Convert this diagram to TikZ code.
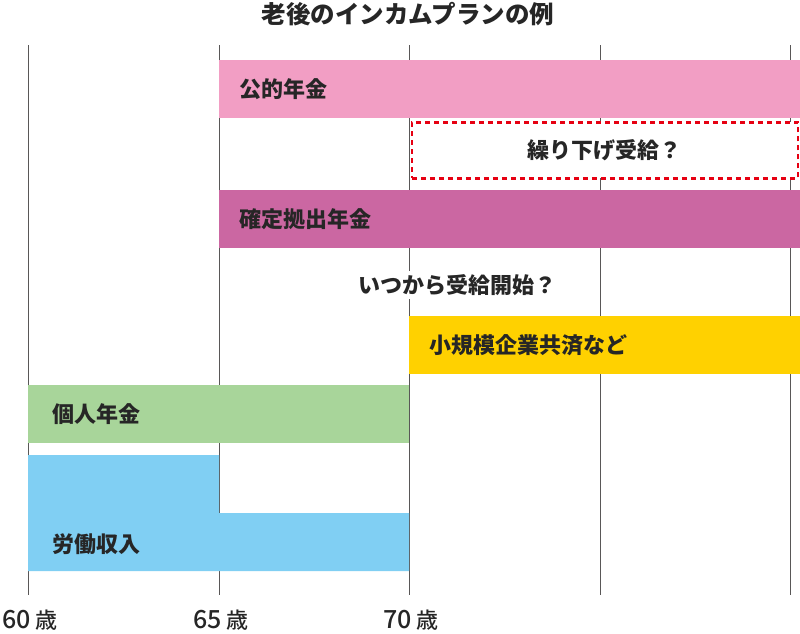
\documentclass[tikz,border=0pt]{standalone}
\usepackage{fontspec}
\setmainfont{Noto Sans CJK JP}
\newfontfamily\agefont{Noto Sans CJK JP Medium}
\usetikzlibrary{positioning}

\definecolor{kouteki}{HTML}{F29EC4}
\definecolor{kakutei}{HTML}{CB67A2}
\definecolor{shokibo}{HTML}{FFD100}
\definecolor{kojin}{HTML}{A8D59A}
\definecolor{roudou}{HTML}{80CFF3}
\definecolor{kuriage}{HTML}{E60012}
\definecolor{rule}{HTML}{595757}

\tikzset{
  bar/.style={anchor=north west, inner sep=0pt, minimum height=58pt},
  barlabel/.style={font=\fontsize{22}{22}\selectfont\bfseries, text=black!85, inner sep=0pt},
  agelabel/.style={font=\agefont, text=black!85, inner sep=0pt},
  agerule/.style={draw=rule, line width=1pt}
}

\begin{document}
\begin{tikzpicture}[x=1pt, y=-1pt]
  \useasboundingbox (0,0) rectangle (800,633);

  % age rules
  \foreach \x/\a in {28/60, 219/65, 409/70, 600/75, 790/80} {
    \coordinate (top\a) at (\x,45);
    \coordinate (bot\a) at (\x,595);
    \draw[agerule] (top\a) -- (bot\a);
  }

  \node[font=\fontsize{24.5}{24.5}\selectfont\bfseries, text=black!85] (title) at (408,14) {老後のインカムプランの例};

  % bars
  \node[bar, fill=kouteki, minimum width=581pt] (A) at (219,60) {};
  \node[bar, fill=white, draw=kuriage, line width=2.8pt, dash pattern=on 5pt off 4pt,
        minimum width=386pt, minimum height=56pt] (B) at (410.5,121) {};
  \node[bar, fill=kakutei, minimum width=581pt] (C) at (219,190) {};
  \node[bar, fill=shokibo, minimum width=391pt] (D) at (409,316) {};
  \node[bar, fill=kojin, minimum width=381pt] (E) at (28,385) {};
  \fill[roudou] (28,455) -- (219,455) -- (219,513) -- (409,513) -- (409,571) -- (28,571) -- cycle;
  \coordinate (F) at (28,544);

  % labels
  \node[barlabel, right=20pt of A.west] {公的年金};
  \node[barlabel] at (B.center) {繰り下げ受給？};
  \node[barlabel, right=20pt of C.west] {確定拠出年金};
  \node[barlabel, fill=white, inner sep=3pt] (ask) at (457,285) {いつから受給開始？};
  \node[barlabel, right=20pt of D.west] {小規模企業共済など};
  \node[barlabel, right=24pt of E.west] {個人年金};
  \node[barlabel, right=24pt of F] {労働収入};

  % ages
  \foreach \a in {60, 65, 70} {
    \node[agelabel, below=15pt of bot\a, xshift=2pt] {{\fontsize{25}{25}\selectfont\a}\hspace{5pt}{\fontsize{22}{22}\selectfont 歳}};
  }
\end{tikzpicture}
\end{document}
